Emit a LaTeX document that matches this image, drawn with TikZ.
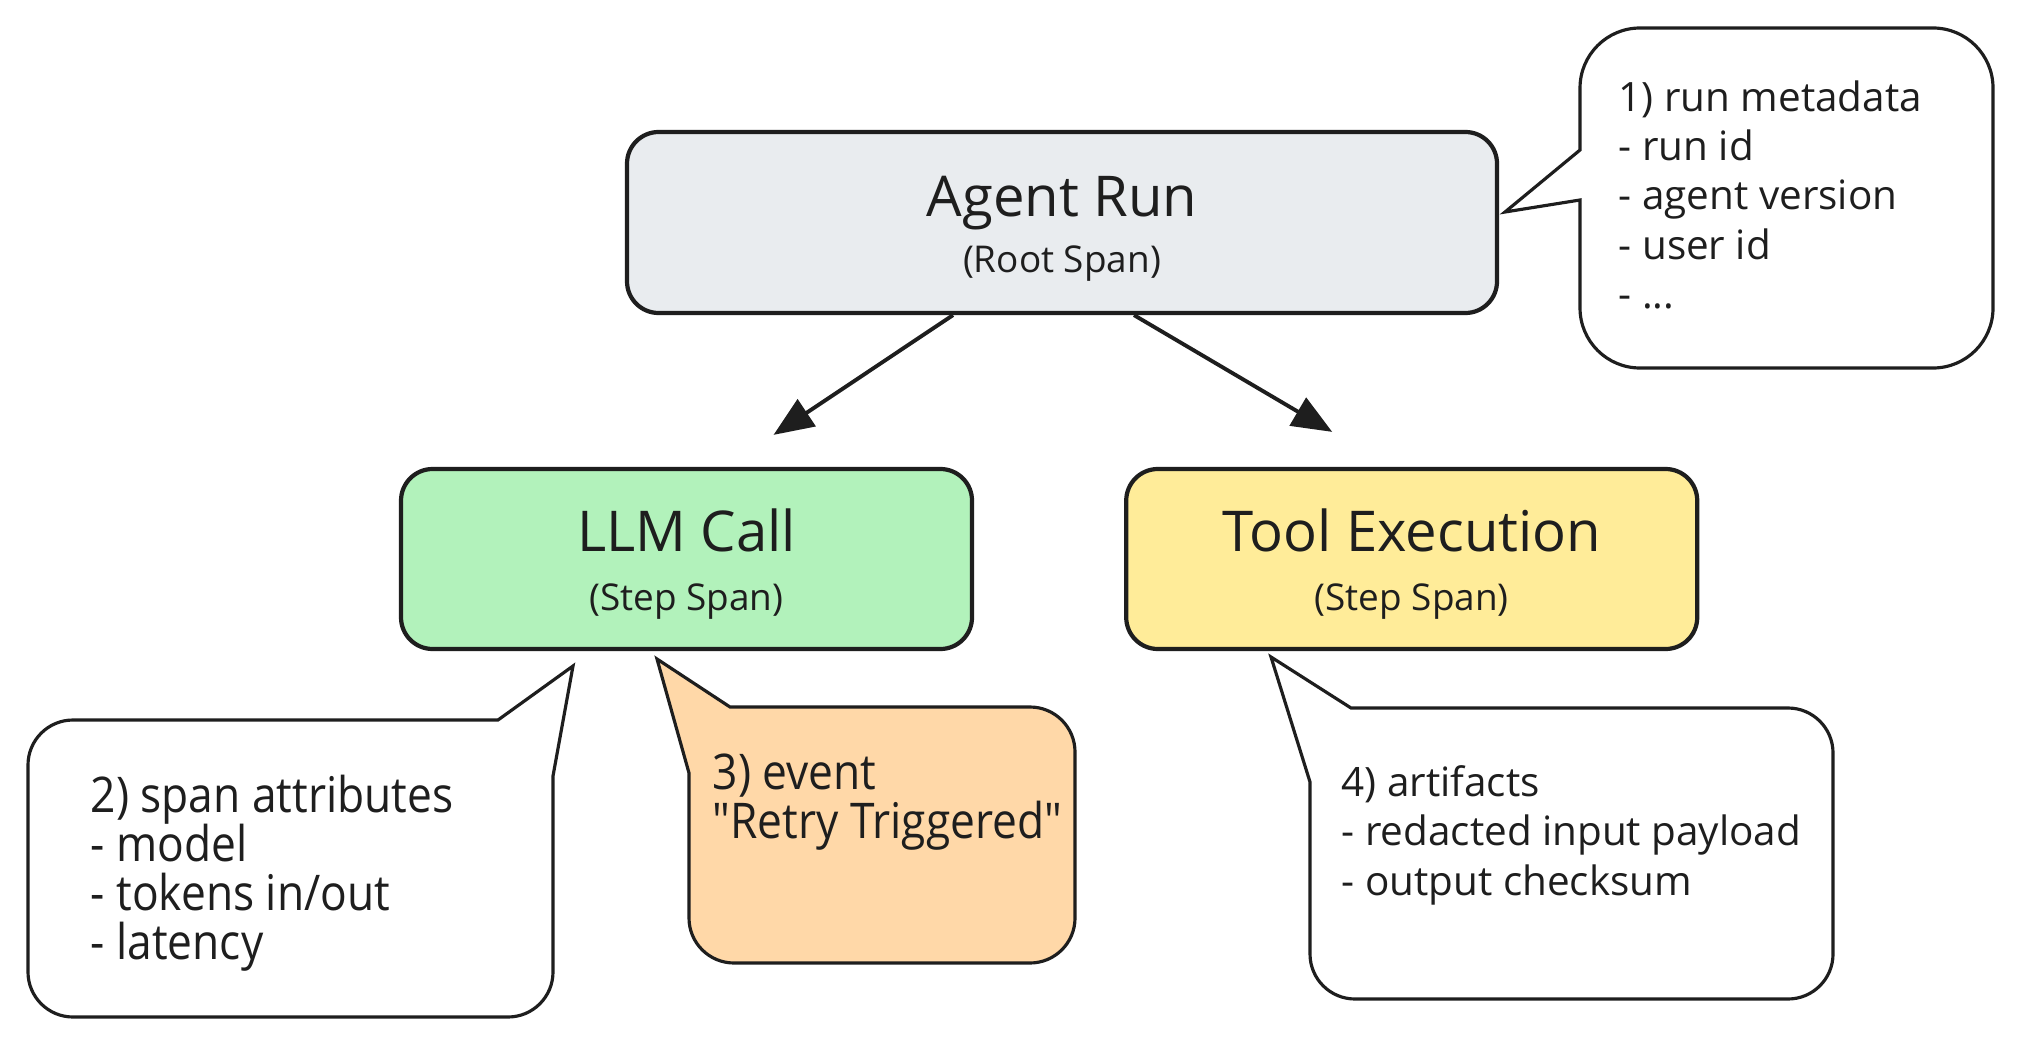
\documentclass[tikz,border=0pt]{standalone}
\usepackage{fontspec}
\setmainfont{Open Sans}
\newfontfamily\narrowfont[FakeStretch=0.9]{Open Sans}
\usetikzlibrary{arrows.meta}
\usetikzlibrary{positioning}
\usepackage{xcolor}
\definecolor{ink}{HTML}{1E1E1E}
\definecolor{rootgray}{HTML}{E9ECEF}
\definecolor{llmgreen}{HTML}{B2F2BB}
\definecolor{toolyellow}{HTML}{FFEC99}
\definecolor{eventorange}{HTML}{FFD8A8}
\newcommand{\spanname}[1]{{\fontsize{16}{19}\selectfont\rule{0pt}{15pt}#1}}
\newcommand{\spankind}[1]{{\fontsize{10.5}{12}\selectfont #1}}

\begin{document}
\begin{tikzpicture}[
                every node/.style={text=ink},
                spanbox/.style={rectangle, draw=ink, line width=1.2pt,
                    rounded corners=9pt, minimum width=5.71cm,
                    minimum height=1.8cm, align=center},
                bubble/.style={draw=ink, line width=0.9pt, fill=white},
                note/.style={anchor=north west, inner sep=0pt, align=left,
                    font=\fontsize{11.5}{14}\selectfont},
                narrownote/.style={note, font=\narrowfont\fontsize{14}{14}\selectfont},
                arrow/.style={-{Triangle[length=4mm, width=3.2mm]}, line width=1.1pt, draw=ink},
            ]
            \fill[white] (0,0) rectangle (20.27,-10.48);
            \useasboundingbox (0,0) rectangle (20.27,-10.48);

            % Nodes
            \node[spanbox, fill=rootgray, minimum width=8.7cm, minimum height=1.81cm] (run) at (10.62,-2.225)
                {\spanname{Agent Run}\\[4pt]\spankind{(Root Span)}};
            \node[spanbox, fill=llmgreen] (llm) at (6.865,-5.59)
                {\spanname{LLM Call}\\[5pt]\spankind{(Step Span)}};
            \node[spanbox, fill=toolyellow, right=1.5cm of llm] (tool)
                {\spanname{Tool Execution}\\[5pt]\spankind{(Step Span)}};

            % Arrows
            \draw[arrow] ([xshift=-1.09cm]run.south) -- ([xshift=0.87cm, yshift=0.32cm]llm.north);
            \draw[arrow] ([xshift=0.72cm]run.south) -- ([xshift=-0.795cm, yshift=0.35cm]tool.north);

            % Callouts
            \draw[bubble] (15.80,-1.50) -- (15.80,-0.88) arc[start angle=180, end angle=90, radius=0.6]
                -- (19.33,-0.28) arc[start angle=90, end angle=0, radius=0.6]
                -- (19.93,-3.08) arc[start angle=0, end angle=-90, radius=0.6]
                -- (16.40,-3.68) arc[start angle=270, end angle=180, radius=0.6]
                -- (15.80,-2.00) -- (15.05,-2.12) -- cycle;
            \node[note] (meta) at (16.18,-0.80)
                {1) run metadata\\- run id\\- agent version\\- user id\\- ...};

            \draw[bubble] (4.98,-7.20) -- (5.73,-6.66) -- (5.53,-7.76)
                -- (5.53,-9.72) arc[start angle=0, end angle=-90, radius=0.45]
                -- (0.73,-10.17) arc[start angle=270, end angle=180, radius=0.45]
                -- (0.28,-7.65) arc[start angle=180, end angle=90, radius=0.45] -- cycle;
            \node[narrownote] (attrs) at (0.90,-7.74)
                {2) span attributes\\- model\\- tokens in/out\\- latency};

            \draw[bubble, fill=eventorange] (7.30,-7.07) -- (10.30,-7.07) arc[start angle=90, end angle=0, radius=0.45]
                -- (10.75,-9.18) arc[start angle=0, end angle=-90, radius=0.45]
                -- (7.34,-9.63) arc[start angle=270, end angle=180, radius=0.45]
                -- (6.89,-7.73) -- (6.57,-6.59) -- cycle;
            \node[narrownote] (event) at (7.12,-7.53)
                {3) event\\"Retry Triggered"};

            \draw[bubble] (13.51,-7.08) -- (17.88,-7.08) arc[start angle=90, end angle=0, radius=0.45]
                -- (18.33,-9.54) arc[start angle=0, end angle=-90, radius=0.45]
                -- (13.55,-9.99) arc[start angle=270, end angle=180, radius=0.45]
                -- (13.10,-7.82) -- (12.71,-6.57) -- cycle;
            \node[note] (artifacts) at (13.41,-7.65)
                {4) artifacts\\- redacted input payload\\- output checksum};

            \end{tikzpicture}
\end{document}
